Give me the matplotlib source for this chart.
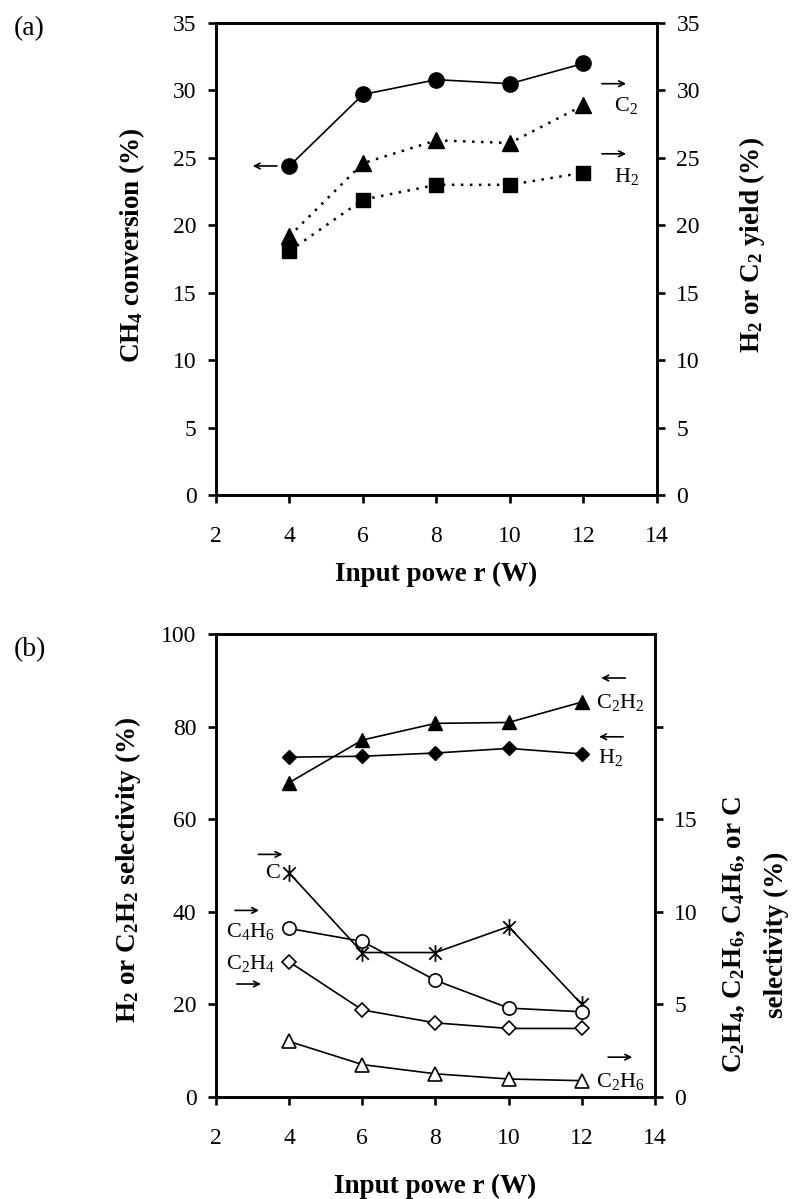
import numpy as np
import matplotlib
matplotlib.use('Agg')
import matplotlib.pyplot as plt
from matplotlib.path import Path

# Serif text everywhere, subscripts through mathtext in the same family
plt.rcParams['font.family'] = ['Liberation Serif', 'DejaVu Serif']
plt.rcParams['mathtext.fontset'] = 'custom'
plt.rcParams['mathtext.rm'] = 'Liberation Serif'
plt.rcParams['mathtext.it'] = 'Liberation Serif:italic'
plt.rcParams['mathtext.bf'] = 'Liberation Serif:bold'

# (a) conversion and yields vs input power
power = [4, 6, 8, 10, 12]
ch4_conversion = [24.4, 29.7, 30.8, 30.5, 32.0]
c2_yield = [19.2, 24.6, 26.3, 26.1, 28.9]
h2_yield = [18.1, 21.9, 23.0, 23.0, 23.9]

# (b) selectivities vs input power
c2h2_sel = [67.9, 77.1, 80.7, 80.9, 85.3]   # left axis
h2_sel = [73.4, 73.6, 74.3, 75.3, 74.1]     # left axis
c_sel = [12.1, 7.8, 7.8, 9.2, 5.0]          # right axis
c4h6_sel = [9.1, 8.4, 6.3, 4.8, 4.6]        # right axis
c2h4_sel = [7.3, 4.7, 4.0, 3.7, 3.7]        # right axis
c2h6_sel = [3.0, 1.75, 1.25, 0.97, 0.88]    # right axis

xticks = [2, 4, 6, 8, 10, 12, 14]

TICK_FS = 17
LABEL_FS = 19.5
NOTE_FS = 16

# asterisk marker: vertical bar plus an X
star = Path([(0, -1), (0, 1), (-0.75, -0.75), (0.75, 0.75), (-0.75, 0.75), (0.75, -0.75)],
            [Path.MOVETO, Path.LINETO, Path.MOVETO, Path.LINETO, Path.MOVETO, Path.LINETO])


def style_axes(ax, ax2):
    for a in (ax, ax2):
        for s in a.spines.values():
            s.set_linewidth(1.9)
        a.tick_params(direction='out', length=6, width=1.9, labelsize=TICK_FS, pad=8)
    ax.set_xlim(2, 14)
    ax.set_xticks(xticks)
    ax.tick_params(axis='x', pad=16)


def arrow(ax, x, y, left=False, length=0.66):
    # small pointer arrow next to a series name
    x0, x1 = x - length / 2, x + length / 2
    if left:
        x0, x1 = x1, x0
    ax.annotate('', xy=(x1, y), xytext=(x0, y),
                arrowprops=dict(arrowstyle='->', lw=1.2, color='black',
                                shrinkA=0, shrinkB=0, mutation_scale=10))


fig = plt.figure(figsize=(7.94, 11.99), dpi=100)

# ---------------- (a) ----------------
ax = fig.add_axes([0.272, 0.5872, 0.5554, 0.3936])
ax2 = ax.twinx()
style_axes(ax, ax2)
ax.set_ylim(0, 35)
ax2.set_ylim(0, 35)
ax.set_yticks(range(0, 36, 5))
ax2.set_yticks(range(0, 36, 5))

ax.plot(power, ch4_conversion, color='black', lw=1.2, marker='o', ms=11, zorder=3)
ax2.plot(power, c2_yield, color='black', lw=1.8, ls=(0, (1.0, 2.6)), marker='^', ms=11)
ax2.plot(power, h2_yield, color='black', lw=1.8, ls=(0, (1.0, 2.6)), marker='s', ms=9.5)

arrow(ax, 3.33, 24.4, left=True)
arrow(ax2, 12.83, 30.5)
ax2.text(12.82, 28.9, 'C$_2$', fontsize=NOTE_FS, ha='left', va='center')
arrow(ax2, 12.83, 25.3)
ax2.text(12.82, 23.6, 'H$_2$', fontsize=NOTE_FS, ha='left', va='center')

ax.set_xlabel('Input powe r (W)', fontsize=LABEL_FS, fontweight='bold', labelpad=11)
ax.set_ylabel(r'CH$_\mathbf{4}$ conversion (%)', fontsize=LABEL_FS, fontweight='bold')
ax.yaxis.set_label_coords(-0.157, 0.53)
ax2.set_ylabel(r'H$_\mathbf{2}$ or C$_\mathbf{2}$ yield (%)', fontsize=LABEL_FS, fontweight='bold')
ax2.yaxis.set_label_coords(1.181, 0.53)

fig.text(0.037, 1 - 29 / 1199, '(a)', fontsize=20, ha='center', va='center')

# ---------------- (b) ----------------
bx = fig.add_axes([0.272, 0.0851, 0.5529, 0.3861])
bx2 = bx.twinx()
style_axes(bx, bx2)
bx.set_ylim(0, 100)
bx.set_yticks(range(0, 101, 20))
bx2.set_ylim(0, 25)
bx2.set_yticks([0, 5, 10, 15, 20])
bx2.set_yticklabels(['0', '5', '10', '15', ''])

bx.plot(power, c2h2_sel, color='black', lw=1.2, marker='^', ms=10.5, zorder=3)
bx.plot(power, h2_sel, color='black', lw=1.2, marker='D', ms=7.5, zorder=3)
bx2.plot(power, c_sel, color='black', lw=1.2, marker=star, ms=12, mew=1.3)
bx2.plot(power, c4h6_sel, color='black', lw=1.2, marker='o', ms=9.5, mfc='white', mec='black', mew=1.2)
bx2.plot(power, c2h4_sel, color='black', lw=1.2, marker='D', ms=7.5, mfc='white', mec='black', mew=1.2)
bx2.plot(power, c2h6_sel, color='black', lw=1.2, marker='^', ms=10, mfc='white', mec='black', mew=1.2)

arrow(bx, 12.86, 90.5, left=True)
bx.text(12.4, 85.3, 'C$_2$H$_2$', fontsize=NOTE_FS, ha='left', va='center')
arrow(bx, 12.8, 77.8, left=True)
bx.text(12.45, 73.4, 'H$_2$', fontsize=NOTE_FS, ha='left', va='center')
arrow(bx, 13.05, 8.6)
bx.text(12.4, 3.3, 'C$_2$H$_6$', fontsize=NOTE_FS, ha='left', va='center')
arrow(bx, 3.49, 52.4)
bx.text(3.74, 48.3, 'C', fontsize=NOTE_FS, ha='right', va='center')
arrow(bx, 2.85, 40.3)
bx.text(3.62, 35.8, 'C$_4$H$_6$', fontsize=NOTE_FS, ha='right', va='center')
bx.text(3.62, 28.8, 'C$_2$H$_4$', fontsize=NOTE_FS, ha='right', va='center')
arrow(bx, 2.9, 24.4)

bx.set_xlabel('Input powe r (W)', fontsize=LABEL_FS, fontweight='bold', labelpad=18)
bx.set_ylabel(r'H$_\mathbf{2}$ or C$_\mathbf{2}$H$_\mathbf{2}$ selectivity (%)',
              fontsize=LABEL_FS, fontweight='bold')
bx.yaxis.set_label_coords(-0.166, 0.49)
bx.text(1.18, 0.35, r'C$_\mathbf{2}$H$_\mathbf{4}$, C$_\mathbf{2}$H$_\mathbf{6}$, '
        r'C$_\mathbf{4}$H$_\mathbf{6}$, or C',
        transform=bx.transAxes, rotation=90, fontsize=LABEL_FS, fontweight='bold',
        ha='center', va='center')
bx.text(1.276, 0.35, 'selectivity (%)', transform=bx.transAxes, rotation=90,
        fontsize=LABEL_FS, fontweight='bold', ha='center', va='center')

fig.text(0.038, 1 - 650 / 1199, '(b)', fontsize=20, ha='center', va='center')

fig.savefig('out.png', dpi=100)
